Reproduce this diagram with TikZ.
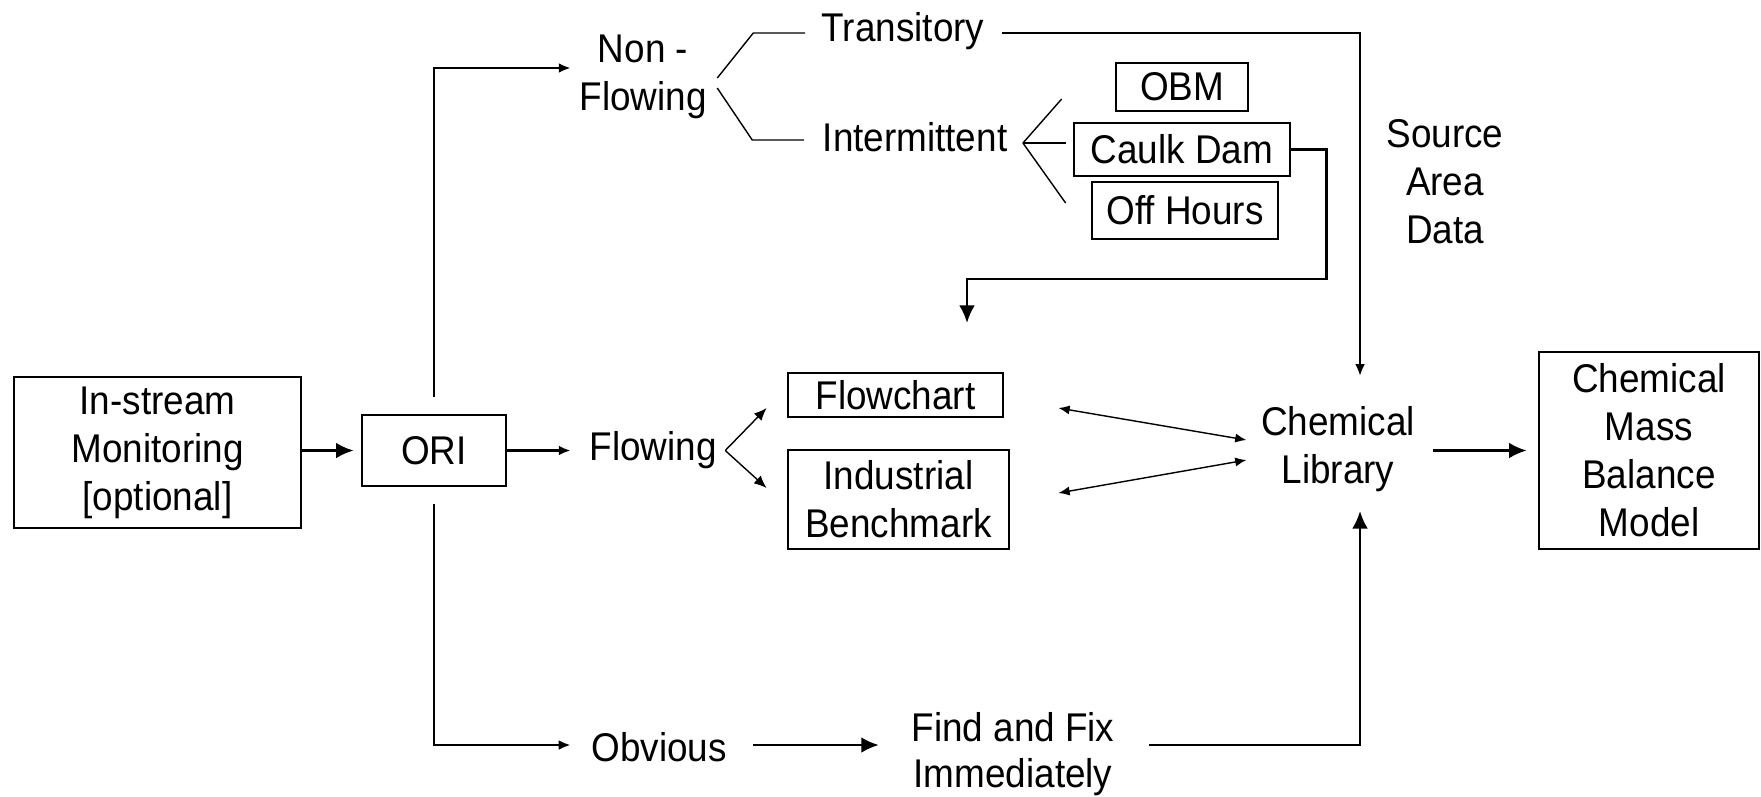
\documentclass[tikz,border=0pt]{standalone}
\usepackage{fontspec}
\setmainfont{Liberation Sans}[FakeStretch=0.92]
\usetikzlibrary{arrows.meta}
\tikzset{
  box/.style={draw=black,line width=0.75pt,inner sep=0pt,align=center},
  lbl/.style={inner sep=0pt,align=center},
  conn/.style={draw=black,line width=0.75pt},
  thinln/.style={draw=black,line width=0.4pt},
}
\tikzset{arr/.style={conn,-{Latex[length=5pt,width=4.5pt]}}, arrs/.style={conn,-{Latex[length=3.4pt,width=2.8pt]}},
  tarr/.style={thinln,-{Latex[length=3.6pt,width=3pt]}}, darr/.style={thinln,{Latex[length=3.2pt,width=2.6pt]}-{Latex[length=3.2pt,width=2.6pt]}}}

\begin{document}
\begin{tikzpicture}[x=0.01cm,y=-0.01cm,font=\fontsize{11.4pt}{13.66pt}\selectfont]
\useasboundingbox (0,0) rectangle (1761,796);
\node[box,minimum width=2.87cm,minimum height=1.51cm] (mon) at (157.5,452.5) {In-stream\\Monitoring\\{[optional]}};
\node[box,minimum width=1.44cm,minimum height=0.71cm] (ori) at (434,450.5) {ORI};
\node[lbl] (nonflow) at (643,77) {Non -\\Flowing};
\node[lbl] (transitory) at (903,31) {Transitory};
\node[lbl] (intermittent) at (915,137) {Intermittent};
\node[box,minimum width=1.32cm,minimum height=0.48cm] (obm) at (1182,87) {OBM};
\node[box,minimum width=2.16cm,minimum height=0.53cm] (caulk) at (1182,149.5) {Caulk Dam};
\node[box,minimum width=1.86cm,minimum height=0.57cm] (offh) at (1185,210.5) {Off Hours};
\node[lbl] (source) at (1445,182) {Source\\Area\\Data};
\node[lbl] (flowing) at (653,450.5) {Flowing};
\node[box,minimum width=2.15cm,minimum height=0.44cm] (flowchart) at (895.5,395) {Flowchart};
\node[box,minimum width=2.21cm,minimum height=0.99cm] (indus) at (898.5,499.5) {Industrial\\Benchmark};
\node[lbl] (chemlib) at (1338,449.5) {Chemical\\Library};
\node[box,minimum width=2.20cm,minimum height=1.97cm] (cmbm) at (1649,450.5) {Chemical\\Mass\\Balance\\Model};
\node[lbl] (obvious) at (659,747) {Obvious};
\node[lbl,font=\fontsize{11.4pt}{13.1pt}\selectfont] (findfix) at (1013,754) {Find and Fix\\Immediately};
\coordinate (ifork) at ([shift={(15,6)}]intermittent.east);
\coordinate (drop) at (967,323);

\draw[arr,shorten >=0.07cm] (mon.east |- ori.west) -- (ori.west);
\draw[arrs] ([shift={(0,-17)}]ori.north) |- ([shift={(-8,-9)}]nonflow.west);
\draw[arrs] ([shift={(0,17)}]ori.south) |- ([shift={(-20,-2)}]obvious.west);
\draw[arrs,shorten >=0.18cm] (ori.east) -- (flowing.west);
\draw[tarr] ([shift={(8,0)}]flowing.east) -- ([shift={(-20,13)}]flowchart.west);
\draw[tarr] ([shift={(8,0)}]flowing.east) -- ([shift={(-20,-11.5)}]indus.west);
\draw[darr] ([shift={(54,13)}]flowchart.east) -- ([shift={(-14,-9.5)}]chemlib.west);
\draw[darr] ([shift={(48,-6.5)}]indus.east) -- ([shift={(-14,10.5)}]chemlib.west);
\draw[thinln] ([shift={(10,1)}]nonflow.east) -- ++(36,-45) -- ([shift={(-16,2)}]transitory.west);
\draw[thinln] ([shift={(10,11)}]nonflow.east) -- ++(35,52) -- ([shift={(-18,3)}]intermittent.west);
\draw[thinln] (ifork) -- ([shift={(-53,12)}]obm.west);
\draw[thinln] (ifork) -- ([shift={(-7,-6.5)}]caulk.west);
\draw[thinln] (ifork) -- ([shift={(-25,-7.5)}]offh.west);
\draw[arr] (caulk.east) -- ++(35,0) -- ++(0,129.5) -| (drop);
\draw[arrs] ([shift={(17,2)}]transitory.east) -| ([shift={(22,-30)}]chemlib.north);
\draw[arr] ([shift={(34,-9)}]findfix.east) -| ([shift={(22,18)}]chemlib.south);
\draw[arr] ([shift={(25.5,-2)}]obvious.east) -- ([shift={(-32,-9)}]findfix.west);
\draw[arr,shorten >=0.11cm] ([shift={(17.5,1)}]chemlib.east) -- (cmbm.west);
\end{tikzpicture}
\end{document}
